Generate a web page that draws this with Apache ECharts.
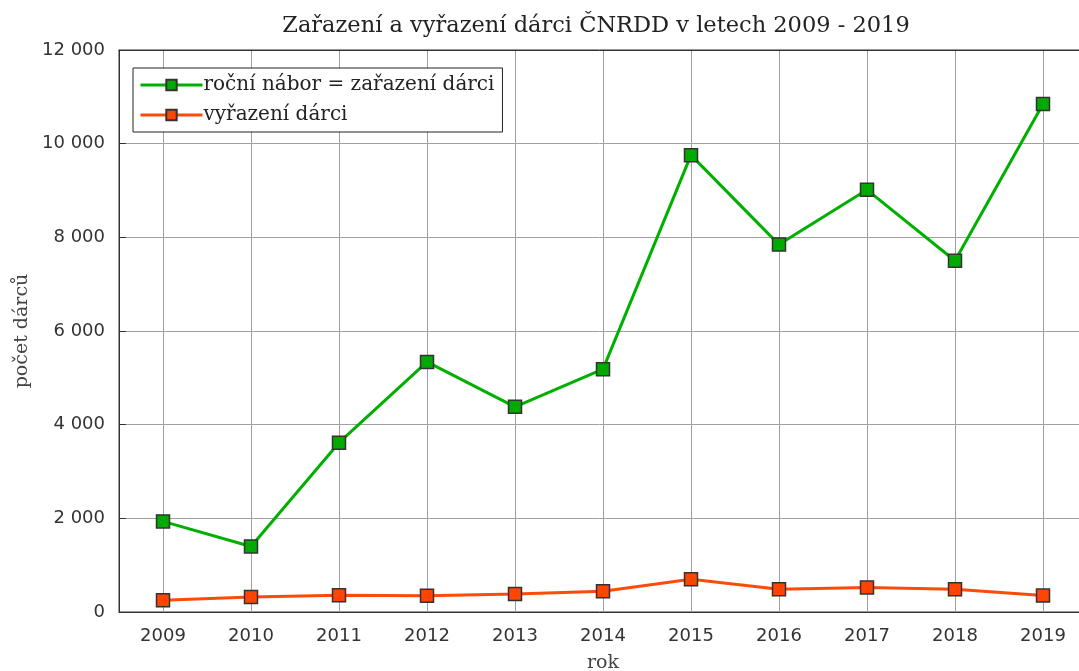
<!DOCTYPE html>
<html>
<head>
<meta charset="utf-8">
<title>Zařazení a vyřazení dárci ČNRDD</title>
<script src="https://cdn.jsdelivr.net/npm/echarts@6/dist/echarts.min.js"></script>
<style>
  html, body { margin: 0; padding: 0; background: #fff; }
  #chart { width: 1079px; height: 671px; }
</style>
</head>
<body>
<div id="chart"></div>
<script>
// data
const years = ['2009', '2010', '2011', '2012', '2013', '2014', '2015', '2016', '2017', '2018', '2019']
const zarazeni = [1935, 1400, 3615, 5340, 4380, 5185, 9755, 7845, 9015, 7500, 10845]
const vyrazeni = [250, 320, 355, 345, 385, 445, 700, 485, 525, 485, 350]
const yTicks = [0, 2000, 4000, 6000, 8000, 10000, 12000]

const serif = '"DejaVu Serif", "Liberation Serif", serif'
const sans = '"DejaVu Sans", "Liberation Sans", sans-serif'

function fmt(v) {
  return String(v).replace(/\B(?=(\d{3})+(?!\d))/g, ' ')
}

const chart = echarts.init(document.getElementById('chart'))

chart.setOption({
  animation: false,
  title: {
    text: 'Zařazení a vyřazení dárci ČNRDD v letech 2009 - 2019',
    left: 591,
    textAlign: 'center',
    top: 10,
    textStyle: {
      fontFamily: serif,
      fontWeight: 'normal',
      fontSize: 22.5,
      color: '#222'
    }
  },
  legend: {
    orient: 'vertical',
    left: 133,
    top: 68,
    padding: [7, 8, 7, 6],
    itemGap: 10,
    itemWidth: 62,
    itemHeight: 13,
    backgroundColor: '#fff',
    borderColor: '#222',
    borderWidth: 1,
    z: 10,
    lineStyle: { width: 3 },
    textStyle: {
      fontFamily: serif,
      fontSize: 20,
      color: '#222',
      padding: [0, 0, 0, -4]
    },
    data: ['roční nábor = zařazení dárci', 'vyřazení dárci']
  },
  grid: {
    left: 119,
    top: 50,
    right: -8,
    bottom: 59,
    outerBoundsMode: 'none',
    containLabel: false,
    show: true,
    borderColor: '#333',
    borderWidth: 1
  },
  xAxis: [{
    type: 'category',
    data: years,
    boundaryGap: true,
    name: 'rok',
    nameLocation: 'middle',
    nameGap: 42,
    nameTextStyle: { fontFamily: serif, fontSize: 19, color: '#444' },
    axisLine: { lineStyle: { color: '#333', width: 1 } },
    axisTick: { inside: true, length: 7, alignWithLabel: true, interval: 0, lineStyle: { color: '#333' } },
    axisLabel: { interval: 0, margin: 15, fontFamily: sans, fontSize: 18, color: '#333' },
    splitLine: { show: true, alignWithLabel: true, interval: 0, lineStyle: { color: '#a0a0a0', width: 1 } }
  }, {
    type: 'category',
    data: years,
    position: 'top',
    boundaryGap: true,
    axisLine: { lineStyle: { color: '#333', width: 1 } },
    axisTick: { inside: true, length: 7, alignWithLabel: true, interval: 0, lineStyle: { color: '#333' } },
    axisLabel: { show: false },
    splitLine: { show: false }
  }],
  yAxis: {
    type: 'value',
    min: yTicks[0],
    max: yTicks[yTicks.length - 1],
    interval: 2000,
    name: 'počet dárců',
    nameLocation: 'middle',
    nameGap: 86,
    nameTextStyle: { fontFamily: serif, fontSize: 19, color: '#444' },
    axisLine: { show: true, lineStyle: { color: '#333', width: 1 } },
    axisTick: { show: true, inside: true, length: 7, lineStyle: { color: '#333' } },
    axisLabel: {
      margin: 14,
      fontFamily: sans,
      fontSize: 18,
      color: '#333',
      formatter: fmt
    },
    splitLine: { show: true, lineStyle: { color: '#a0a0a0', width: 1 } }
  },
  series: [{
    name: 'roční nábor = zařazení dárci',
    type: 'line',
    data: zarazeni,
    symbol: 'rect',
    symbolSize: 13,
    lineStyle: { color: '#00b000', width: 3 },
    itemStyle: { color: '#00aa00', borderColor: '#333', borderWidth: 1.5 },
    z: 3
  }, {
    name: 'vyřazení dárci',
    type: 'line',
    data: vyrazeni,
    symbol: 'rect',
    symbolSize: 13,
    lineStyle: { color: '#ff4a0a', width: 3 },
    itemStyle: { color: '#ff4500', borderColor: '#333', borderWidth: 1.5 },
    z: 3
  }]
})
</script>
</body>
</html>
